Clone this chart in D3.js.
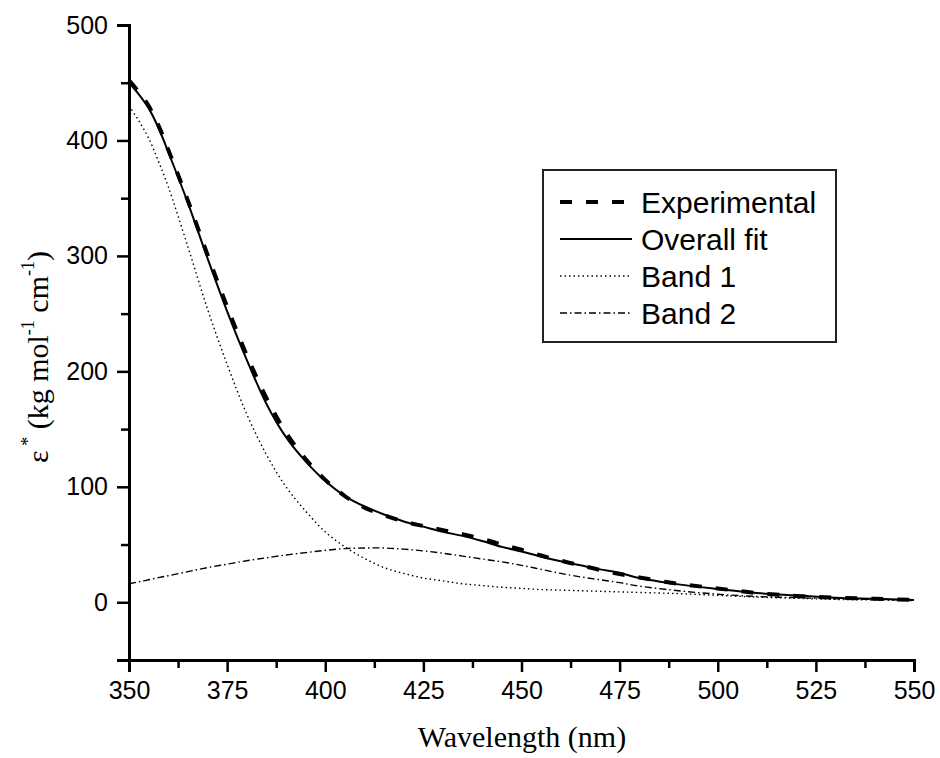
<!DOCTYPE html>
<html>
<head>
<meta charset="utf-8">
<script src="https://cdn.jsdelivr.net/npm/d3@7"></script>
<style>
  html, body { margin: 0; padding: 0; background: #fff; }
  svg { display: block; }
</style>
</head>
<body>
<script>
// Absorption spectrum with its two-band Gaussian decomposition
const wavelengths = [350,352.5,355,357.5,360,365,370,375,380,385,390,395,400,405,410,415,420,425,430,435,440,445,450,455,460,465,470,475,480,490,500,510,520,530,540,550];
const experimental = [452,442,430,413,392,348,301,256,214,177,147,124,106,92,82,75.5,70,66,62.5,59,55,50,45.5,40.5,36,32,28,24.5,21.5,16,12,8,5.5,4,3,2];
const overallFit   = [450,440,428,411,390,346,298,252,210,172,143,122,105,92,83,76,70,65.5,61,57.5,53,48,44,39.5,35.5,32,28.5,25.5,21,15.5,11.5,8,6,4,3,2];
const band1        = [430,417,402,382,360,308,254,206,163,128,100,79,61,48,38,30,25,21,18.5,16,14.5,13,12,11,10.5,10,9.5,9,8.5,7.5,6,4.5,3.5,2.5,2,1.5];
const band2        = [16,17.7,19.5,21.3,23,26.5,30,33,36,38.5,41,43,45,46.5,47,47,46,44.5,42.5,40,37.5,35,32,28.5,25,22,19.5,17,14,10,7,5,4,3,2.5,2];

const xMajorTicks = [350,375,400,425,450,475,500,525,550];
const xMinorTicks = [362.5,387.5,412.5,437.5,462.5,487.5,512.5,537.5];
const yMajorTicks = [0,100,200,300,400,500];
const yMinorTicks = [-50,50,150,250,350,450];

const seriesList = [
  { name: "Experimental", values: experimental, width: 4,   dash: "12,14" },
  { name: "Overall fit",  values: overallFit,   width: 2,   dash: null },
  { name: "Band 1",       values: band1,        width: 1.4, dash: "1.5,3" },
  { name: "Band 2",       values: band2,        width: 1.4, dash: "7,3,1.5,3" }
];

const W = 940, H = 758;
const svg = d3.select("body").append("svg").attr("width", W).attr("height", H);

const x = d3.scaleLinear().domain([350, 550]).range([129, 914]);
const y = d3.scaleLinear().domain([-50, 500]).range([660, 25]);

// curves
const line = d3.line()
  .x((d, i) => x(wavelengths[i]))
  .y(d => y(d))
  .curve(d3.curveCatmullRom.alpha(0.5));

const plot = svg.append("g");
seriesList.forEach(s => {
  plot.append("path")
    .datum(s.values)
    .attr("d", line)
    .attr("fill", "none")
    .attr("stroke", "#000")
    .attr("stroke-width", s.width)
    .attr("stroke-dasharray", s.dash);
});

// axes
const tickFont = "'Liberation Sans', Arial, sans-serif";
const serifFont = "'Liberation Serif', 'Times New Roman', serif";

svg.append("g").attr("transform", `translate(0,${y(-50)})`)
  .call(d3.axisBottom(x).tickValues(xMajorTicks).tickSize(12).tickPadding(9).tickFormat(d3.format("d")));
svg.append("g").attr("transform", `translate(0,${y(-50)})`)
  .call(d3.axisBottom(x).tickValues(xMinorTicks).tickSize(8).tickFormat(""))
  .select(".domain").remove();

svg.append("g").attr("transform", `translate(${x(350)},0)`)
  .call(d3.axisLeft(y).tickValues(yMajorTicks).tickSize(12).tickPadding(9).tickFormat(d3.format("d")));
svg.append("g").attr("transform", `translate(${x(350)},0)`)
  .call(d3.axisLeft(y).tickValues(yMinorTicks).tickSize(8).tickFormat(""))
  .select(".domain").remove();

svg.selectAll(".domain").attr("stroke", "#000").attr("stroke-width", 3);
svg.selectAll(".tick line").attr("stroke", "#000").attr("stroke-width", 2.5);
svg.selectAll(".tick text")
  .attr("font-family", tickFont)
  .attr("font-size", 25)
  .attr("fill", "#000");

// axis titles
svg.append("text")
  .attr("x", 522).attr("y", 747)
  .attr("text-anchor", "middle")
  .attr("font-family", serifFont)
  .attr("font-size", 30)
  .text("Wavelength (nm)");

const yTitle = svg.append("text")
  .attr("transform", "translate(48,357) rotate(-90)")
  .attr("text-anchor", "middle")
  .attr("font-family", serifFont)
  .attr("font-size", 30);
yTitle.append("tspan").text("ε");
yTitle.append("tspan").attr("font-size", 18).attr("dy", -14).text(" *");
yTitle.append("tspan").attr("dy", 14).text(" (kg mol");
yTitle.append("tspan").attr("font-size", 18).attr("dy", -14).text("-1");
yTitle.append("tspan").attr("dy", 14).text(" cm");
yTitle.append("tspan").attr("font-size", 18).attr("dy", -14).text("-1");
yTitle.append("tspan").attr("dy", 14).text(")");

// legend
const legend = svg.append("g");
legend.append("rect")
  .attr("x", 543).attr("y", 170).attr("width", 293).attr("height", 172)
  .attr("fill", "#fff").attr("stroke", "#222").attr("stroke-width", 2);

seriesList.forEach((s, i) => {
  const cy = 202 + i * 37;
  legend.append("line")
    .attr("x1", 560).attr("x2", 632).attr("y1", cy).attr("y2", cy)
    .attr("stroke", "#000")
    .attr("stroke-width", s.width)
    .attr("stroke-dasharray", s.dash);
  legend.append("text")
    .attr("x", 641).attr("y", cy + 11)
    .attr("font-family", tickFont)
    .attr("font-size", 30)
    .text(s.name);
});
</script>
</body>
</html>
